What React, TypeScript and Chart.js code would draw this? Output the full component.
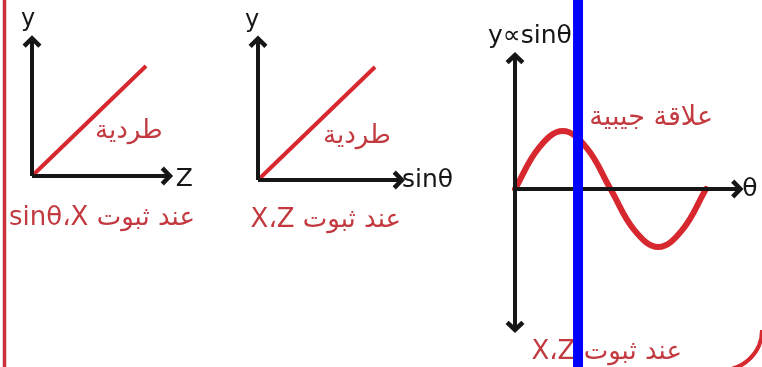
import React, { useEffect, useRef } from "react";
import { Chart, registerables } from "chart.js";
Chart.register(...registerables);

const W = 762;
const H = 367;

// ---- Data (panel units) ----
// Panel 1: y ∝ Z (direct)
const p1Line = [{ x: 0, y: 0 }, { x: 1, y: 1 }];
const p1XAxis = [{ x: 0, y: 0 }, { x: 1.21, y: 0 }];
const p1YAxis = [{ x: 0, y: 0 }, { x: 0, y: 1.25 }];
// Panel 2: y ∝ sinθ (direct)
const p2Line = [{ x: 0, y: 0 }, { x: 1, y: 1 }];
const p2XAxis = [{ x: 0, y: 0 }, { x: 1.23, y: 0 }];
const p2YAxis = [{ x: 0, y: 0 }, { x: 0, y: 1.25 }];
// Panel 3: y vs θ (sinusoidal), θ in periods
const thetaVals = [0, 0.125, 0.25, 0.375, 0.5, 0.625, 0.75, 0.875, 1];
const yVals = [0, 0.71, 1, 0.71, 0, -0.71, -1, -0.71, 0];
const p3XAxis = [{ x: 0, y: 0 }, { x: 1.18, y: 0 }];
const p3YAxis = [{ x: 0, y: -2.43 }, { x: 0, y: 2.31 }];
const markerTheta = [0.33];

const texts = {
  y: "y",
  z: "Z",
  sin: "sinθ",
  theta: "θ",
  yPropSin: "y∝sinθ",
  direct: "طردية",
  sine: "علاقة جيبية",
  p1Note: "عند ثبوت sinθ،X",
  p2Note: "عند ثبوت X،Z",
  p3Note: "عند ثبوت X،Z",
};

// ---- Layout / styles ----
const panels: Record<string, { ox: number; oy: number; ux: number; uy: number }> = {
  p1: { ox: 32, oy: 176, ux: 114, uy: 110 },
  p2: { ox: 258, oy: 180, ux: 117, uy: 113 },
  p3: { ox: 515, oy: 189, ux: 191, uy: 58 },
};
const RED = "#d7282f";
const TXT_RED = "#c23a40";
const BLACK = "#161616";
const LATIN = "'DejaVu Sans', sans-serif";
const ARABIC = "'DejaVu Sans', sans-serif";

type Lbl = {
  text: string; p: string; x: number; y: number; color: string;
  size: number; align: CanvasTextAlign; rtl?: boolean; font: string;
};
const labels: Lbl[] = [
  { text: texts.y, p: "p1", x: -0.035, y: 1.42, color: BLACK, size: 24, align: "center", font: LATIN },
  { text: texts.z, p: "p1", x: 1.26, y: -0.03, color: BLACK, size: 25, align: "left", font: LATIN },
  { text: texts.direct, p: "p1", x: 0.85, y: 0.41, color: TXT_RED, size: 26, align: "center", rtl: true, font: ARABIC },
  { text: texts.p1Note, p: "p1", x: 0.614, y: -0.38, color: TXT_RED, size: 26, align: "center", rtl: true, font: ARABIC },
  { text: texts.y, p: "p2", x: -0.05, y: 1.41, color: BLACK, size: 24, align: "center", font: LATIN },
  { text: texts.sin, p: "p2", x: 1.23, y: 0, color: BLACK, size: 25, align: "left", font: LATIN },
  { text: texts.direct, p: "p2", x: 0.846, y: 0.39, color: TXT_RED, size: 26, align: "center", rtl: true, font: ARABIC },
  { text: texts.p2Note, p: "p2", x: 0.58, y: -0.36, color: TXT_RED, size: 26, align: "center", rtl: true, font: ARABIC },
  { text: texts.yPropSin, p: "p3", x: -0.141, y: 2.63, color: BLACK, size: 25, align: "left", font: LATIN },
  { text: texts.theta, p: "p3", x: 1.19, y: -0.017, color: BLACK, size: 25, align: "left", font: LATIN },
  { text: texts.sine, p: "p3", x: 1.037, y: 1.22, color: TXT_RED, size: 27, align: "right", rtl: true, font: ARABIC },
  { text: texts.p3Note, p: "p3", x: 0.48, y: -2.81, color: TXT_RED, size: 26, align: "center", rtl: true, font: ARABIC },
];

function xScale(p: { ox: number; ux: number }) {
  return { type: "linear" as const, display: false, min: -p.ox / p.ux, max: (W - p.ox) / p.ux };
}
function yScale(p: { oy: number; uy: number }) {
  return { type: "linear" as const, display: false, min: -(H - p.oy) / p.uy, max: p.oy / p.uy };
}

const overlay = {
  id: "overlay",
  afterDatasetsDraw(chart: any) {
    const ctx: CanvasRenderingContext2D = chart.ctx;
    // arrowheads
    chart.data.datasets.forEach((ds: any, i: number) => {
      if (!ds.arrow) return;
      const pts = chart.getDatasetMeta(i).data;
      const heads: [any, any][] = [[pts[pts.length - 1], pts[pts.length - 2]]];
      if (ds.arrow === "both") heads.push([pts[0], pts[1]]);
      heads.forEach(([tip, prev]) => {
        const a = Math.atan2(tip.y - prev.y, tip.x - prev.x);
        const L = 11;
        ctx.save();
        ctx.strokeStyle = BLACK;
        ctx.lineWidth = 4.5;
        ctx.lineJoin = "miter";
        ctx.lineCap = "butt";
        ctx.beginPath();
        ctx.moveTo(tip.x - L * Math.cos(a - 0.8), tip.y - L * Math.sin(a - 0.8));
        ctx.lineTo(tip.x, tip.y);
        ctx.lineTo(tip.x - L * Math.cos(a + 0.8), tip.y - L * Math.sin(a + 0.8));
        ctx.stroke();
        ctx.restore();
      });
    });
    // labels
    labels.forEach((l) => {
      const n = l.p.slice(1);
      const px = chart.scales["x" + n].getPixelForValue(l.x);
      const py = chart.scales["y" + n].getPixelForValue(l.y);
      ctx.save();
      ctx.font = `${l.size}px ${l.font}`;
      ctx.fillStyle = l.color;
      ctx.textAlign = l.align;
      ctx.textBaseline = "middle";
      (ctx as any).direction = l.rtl ? "rtl" : "ltr";
      ctx.fillText(l.text, px, py);
      ctx.restore();
    });
    // blue marker line in panel 3
    markerTheta.forEach((t) => {
      const px = chart.scales.x3.getPixelForValue(t);
      ctx.save();
      ctx.strokeStyle = "#0000ff";
      ctx.lineWidth = 10;
      ctx.beginPath();
      ctx.moveTo(px, 0);
      ctx.lineTo(px, H);
      ctx.stroke();
      ctx.restore();
    });
    // frame
    ctx.save();
    ctx.strokeStyle = "#c9323a";
    ctx.lineWidth = 3.5;
    ctx.beginPath();
    ctx.moveTo(4.5, 0);
    ctx.lineTo(4.5, H);
    ctx.stroke();
    ctx.lineWidth = 4;
    ctx.strokeStyle = RED;
    ctx.beginPath();
    ctx.arc(722, 330, 40, 0, Math.PI / 2);
    ctx.stroke();
    ctx.restore();
  },
};

export default function App() {
  const ref = useRef<HTMLCanvasElement>(null);
  useEffect(() => {
    document.body.style.margin = "0";
    const base = { showLine: true, pointRadius: 0, fill: false, tension: 0 };
    const axis = (data: any, n: number, arrow: string) => ({
      ...base, data, xAxisID: "x" + n, yAxisID: "y" + n,
      borderColor: BLACK, borderWidth: 4, arrow,
    });
    const chart = new Chart(ref.current!, {
      type: "scatter",
      data: {
        datasets: [
          axis(p1XAxis, 1, "end"),
          axis(p1YAxis, 1, "end"),
          { ...base, data: p1Line, xAxisID: "x1", yAxisID: "y1", borderColor: RED, borderWidth: 4 },
          axis(p2XAxis, 2, "end"),
          axis(p2YAxis, 2, "end"),
          { ...base, data: p2Line, xAxisID: "x2", yAxisID: "y2", borderColor: RED, borderWidth: 4 },
          axis(p3XAxis, 3, "end"),
          axis(p3YAxis, 3, "both"),
          {
            ...base,
            data: thetaVals.map((t, i) => ({ x: t, y: yVals[i] })),
            xAxisID: "x3", yAxisID: "y3", borderColor: RED, borderWidth: 6,
            tension: 0.4, borderCapStyle: "round",
          },
        ] as any,
      },
      options: {
        animation: false,
        responsive: true,
        maintainAspectRatio: false,
        layout: { padding: 0 },
        plugins: { legend: { display: false }, tooltip: { enabled: false } },
        scales: {
          x1: xScale(panels.p1), y1: yScale(panels.p1),
          x2: xScale(panels.p2), y2: yScale(panels.p2),
          x3: xScale(panels.p3), y3: yScale(panels.p3),
        } as any,
      },
      plugins: [overlay],
    });
    return () => chart.destroy();
  }, []);
  return (
    <div style={{ width: W, height: H, position: "relative", background: "#fff" }}>
      <canvas ref={ref} />
    </div>
  );
}
